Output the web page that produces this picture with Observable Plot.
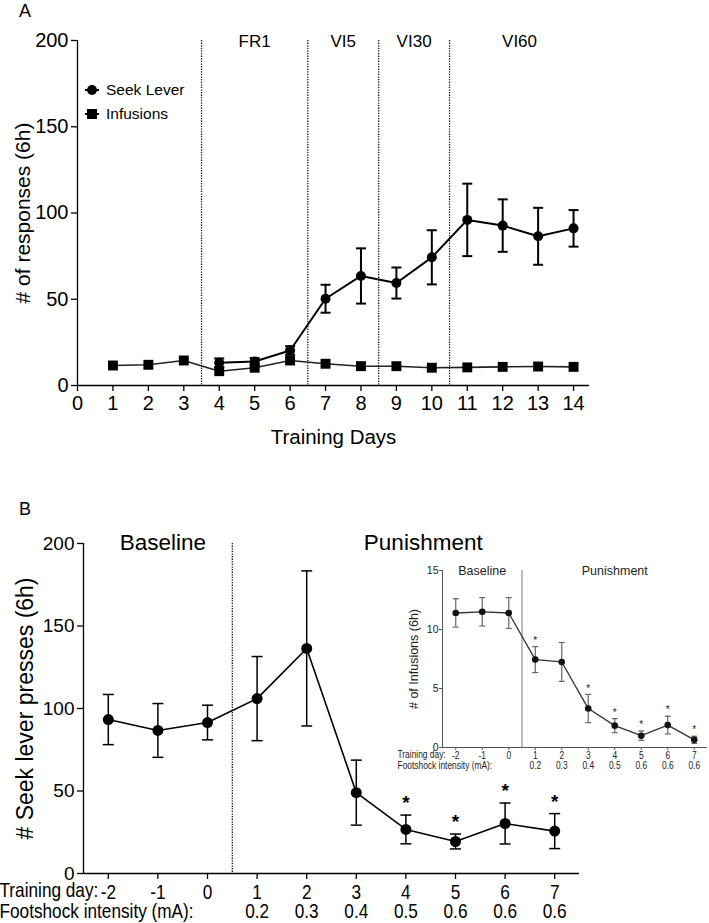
<!DOCTYPE html>
<html>
<head>
<meta charset="utf-8">
<script src="https://cdn.jsdelivr.net/npm/d3@7"></script>
<script src="https://cdn.jsdelivr.net/npm/@observablehq/plot@0.6"></script>
<style>
  body { margin: 0; background: #fff; }
  #fig { position: relative; width: 709px; height: 923px; overflow: hidden;
         font-family: "Liberation Sans", Arial, Helvetica, sans-serif; color: #000; }
  .panel { position: absolute; }
  .tag { position: absolute; font-size: 18px; line-height: 1; z-index: 2; }
</style>
</head>
<body>
<div id="fig">
  <div id="panelA" class="panel" style="left:0;top:0"></div>
  <div id="panelB" class="panel" style="left:0;top:480px"></div>
  <div id="inset" class="panel" style="left:390px;top:555px"></div>
  <div class="tag" style="left:19px;top:2px">A</div>
  <div class="tag" style="left:19px;top:500px">B</div>
</div>
<script>
// ---------- Panel A: acquisition of seeking / taking ----------
const daysA = [1, 2, 3, 4, 5, 6, 7, 8, 9, 10, 11, 12, 13, 14];
const infusionMean = [11.6, 12.0, 14.5, 8.3, 10.3, 14.5, 12.6, 11.2, 11.2, 10.3, 10.5, 10.8, 11.0, 10.8];
const infusionSem  = [1.0, 1.0, 1.2, 1.5, 1.2, 1.2, 1.0, 1.0, 1.0, 1.0, 1.0, 1.0, 1.0, 1.0];
const seekDays = [4, 5, 6, 7, 8, 9, 10, 11, 12, 13, 14];
const seekMean = [13.2, 13.9, 20.3, 50.3, 63.5, 59.4, 74.3, 96.0, 92.7, 86.5, 91.1];
const seekSem  = [2.5, 2.0, 2.5, 8.1, 16.0, 9.0, 15.7, 21.0, 15.2, 16.5, 10.6];
const xTicksA = [0, 1, 2, 3, 4, 5, 6, 7, 8, 9, 10, 11, 12, 13, 14];
const yTicksA = [0, 50, 100, 150, 200];
const phaseBoundsA = [3.5, 6.5, 8.5, 10.5];
const phaseNamesA = ["FR1", "VI5", "VI30", "VI60"];
const legendA = ["Seek Lever", "Infusions"];

// ---------- Panel B: punished seeking ----------
const daysB = [-2, -1, 0, 1, 2, 3, 4, 5, 6, 7];
const footshock = ["", "", "", "0.2", "0.3", "0.4", "0.5", "0.6", "0.6", "0.6"];
const seekMeanB = [93.3, 86.7, 91.5, 106.0, 136.4, 49.0, 26.7, 19.4, 30.3, 25.7];
const seekSemB  = [15.2, 16.3, 10.5, 25.5, 47.0, 19.7, 8.7, 4.5, 12.4, 10.6];
const sigB      = [false, false, false, false, false, false, true, true, true, true];
const yTicksB = [0, 50, 100, 150, 200];
const phaseNamesB = ["Baseline", "Punishment"];
const phaseLabelXB = [-0.9, 4.35];
const phaseBoundB = [0.5];

// ---------- Inset: infusions during punishment ----------
const infMeanB = [11.4, 11.5, 11.4, 7.45, 7.25, 3.3, 1.85, 1.0, 1.9, 0.65];
const infSemB  = [1.2, 1.2, 1.3, 1.1, 1.65, 1.2, 0.6, 0.4, 0.75, 0.3];
const sigInf   = [false, false, false, true, false, true, true, true, true, true];
const yTicksInset = [0, 5, 10, 15];
const phaseLabelXInset = [-1, 4];

const FONT = '"Liberation Sans", Arial, Helvetica, sans-serif';
// the condensed rows are tagged through this family name and squeezed after rendering
const NARROW = '"Liberation Sans Narrow", "Liberation Sans", Arial, sans-serif';
const dayLabel = d => String(d);

// horizontal error-bar cap drawn as a symbol so it keeps a constant pixel width
const cap = {
  draw(context, size) {
    const w = Math.sqrt(size / Math.PI);
    context.moveTo(-w, 0);
    context.lineTo(w, 0);
  }
};

function errorBars(xs, mean, sem, {capR, stroke, strokeWidth}) {
  const rows = xs.map((x, i) => ({x, lo: mean[i] - sem[i], hi: mean[i] + sem[i]}));
  return [
    Plot.ruleX(rows, {x: "x", y1: "lo", y2: "hi", stroke, strokeWidth}),
    Plot.dot(rows, {x: "x", y: "hi", symbol: cap, r: capR, stroke, strokeWidth, fill: "none"}),
    Plot.dot(rows, {x: "x", y: "lo", symbol: cap, r: capR, stroke, strokeWidth, fill: "none"})
  ];
}

// legend: symbol with a short line through it, plus label
function legendMark(items) {
  return (index, scales, values, dims) => {
    const g = d3.create("svg:g");
    items.forEach((it, i) => {
      const y = dims.marginTop + 50 + i * 24;
      const x = dims.marginLeft + 15;
      g.append("line").attr("x1", x - 7).attr("x2", x + 7).attr("y1", y).attr("y2", y)
        .attr("stroke", "#000").attr("stroke-width", 2);
      if (it.symbol === "circle") {
        g.append("circle").attr("cx", x).attr("cy", y).attr("r", 5);
      } else {
        g.append("rect").attr("x", x - 5).attr("y", y - 5).attr("width", 10).attr("height", 10);
      }
      g.append("text").attr("x", x + 14).attr("y", y).attr("dy", "0.35em")
        .attr("text-anchor", "start")
        .attr("font-size", 15.5).attr("font-family", FONT).text(it.label);
    });
    return g.node();
  };
}

// squeeze glyphs horizontally for the condensed label rows
function condense(svg, s) {
  svg.querySelectorAll('g[font-family*="Narrow"] text').forEach(t => {
    const tr = t.getAttribute("transform") || "";
    t.setAttribute("transform", `${tr} scale(${s},1)`);
  });
  return svg;
}

// ---------- draw panel A ----------
const xMaxA = 14.45;
const infRows = daysA.map((d, i) => ({day: d, v: infusionMean[i]}));
const seekRows = seekDays.map((d, i) => ({day: d, v: seekMean[i]}));
const phaseRowsA = phaseNamesA.map((name, i) => ({
  name, x: (phaseBoundsA[i] + (i + 1 < phaseBoundsA.length ? phaseBoundsA[i + 1] : xMaxA)) / 2
}));

const plotA = Plot.plot({
  width: 709, height: 480,
  marginLeft: 77, marginRight: 120, marginTop: 40, marginBottom: 95,
  style: {fontFamily: FONT, background: "transparent", color: "#000"},
  x: {domain: [0, xMaxA], axis: null},
  y: {domain: [0, 200], axis: null},
  marks: [
    Plot.ruleX([0], {stroke: "#000", strokeWidth: 1.3}),
    Plot.ruleY([0], {stroke: "#000", strokeWidth: 1.3}),
    Plot.axisY({ticks: yTicksA, tickSize: 6, tickPadding: 3, fontSize: 20, label: null, strokeWidth: 1.3}),
    Plot.axisX({ticks: xTicksA, tickSize: 6, tickPadding: 4, fontSize: 20, label: null, strokeWidth: 1.3}),
    Plot.text(["# of responses (6h)"], {frameAnchor: "left", textAnchor: "middle", rotate: -90, dx: -54, fontSize: 21}),
    Plot.text(["Training Days"], {frameAnchor: "bottom", dy: 58, fontSize: 20.5}),
    Plot.ruleX(phaseBoundsA, {stroke: "#000", strokeWidth: 1.2, strokeDasharray: "1.3,1.3"}),
    Plot.text(phaseRowsA, {x: "x", y: 200, text: "name", fontSize: 17, dy: 1}),
    Plot.line(infRows, {x: "day", y: "v", stroke: "#222", strokeWidth: 1.6}),
    ...errorBars(daysA, infusionMean, infusionSem, {capR: 4, stroke: "#222", strokeWidth: 1.5}),
    Plot.dot(infRows, {x: "day", y: "v", symbol: "square", r: 5.6, fill: "#000"}),
    Plot.line(seekRows, {x: "day", y: "v", stroke: "#000", strokeWidth: 2}),
    ...errorBars(seekDays, seekMean, seekSem, {capR: 5, stroke: "#000", strokeWidth: 2}),
    Plot.dot(seekRows, {x: "day", y: "v", symbol: "circle", r: 5, fill: "#000"}),
    legendMark([{symbol: "circle", label: legendA[0]}, {symbol: "square", label: legendA[1]}])
  ]
});
document.getElementById("panelA").append(plotA);

// ---------- draw panel B ----------
const rowsB = daysB.map((d, i) => ({day: d, v: seekMeanB[i], hi: seekMeanB[i] + seekSemB[i], sig: sigB[i], fs: footshock[i]}));
const plotB = Plot.plot({
  width: 709, height: 443,
  marginLeft: 83, marginRight: 130, marginTop: 63, marginBottom: 50,
  style: {fontFamily: FONT, background: "transparent", color: "#000", overflow: "visible"},
  x: {domain: [-2.5, 7.5], axis: null},
  y: {domain: [0, 200], axis: null},
  marks: [
    Plot.ruleX([-2.5], {stroke: "#000", strokeWidth: 1.3}),
    Plot.ruleY([0], {stroke: "#000", strokeWidth: 1.3}),
    Plot.axisY({ticks: yTicksB, tickSize: 6, tickPadding: 3, fontSize: 19, label: null, strokeWidth: 1.3}),
    Plot.axisX({ticks: daysB, tickFormat: dayLabel, tickSize: 6, tickPadding: 5, fontSize: 21, fontFamily: NARROW, label: null, strokeWidth: 1.3}),
    Plot.text(["Training day:"], {frameAnchor: "bottom-left", textAnchor: "start", dx: -84, dy: 23, fontSize: 21, fontFamily: NARROW}),
    Plot.text(["Footshock intensity (mA):"], {frameAnchor: "bottom-left", textAnchor: "start", dx: -84, dy: 44, fontSize: 21, fontFamily: NARROW}),
    Plot.text(rowsB, {x: "day", text: "fs", frameAnchor: "bottom", dy: 44, fontSize: 21, fontFamily: NARROW}),
    Plot.text(["# Seek lever presses (6h)"], {frameAnchor: "left", textAnchor: "middle", rotate: -90, dx: -58, fontSize: 23}),
    Plot.ruleX(phaseBoundB, {stroke: "#000", strokeWidth: 1.2, strokeDasharray: "1.3,1.3"}),
    Plot.text(phaseNamesB, {x: (d, i) => phaseLabelXB[i], y: 200, fontSize: 22.5, dy: -1}),
    Plot.line(rowsB, {x: "day", y: "v", stroke: "#000", strokeWidth: 1.6}),
    ...errorBars(daysB, seekMeanB, seekSemB, {capR: 5.5, stroke: "#000", strokeWidth: 1.5}),
    Plot.dot(rowsB, {x: "day", y: "v", r: 5.5, fill: "#000"}),
    Plot.text(rowsB.filter(d => d.sig), {x: "day", y: "hi", text: () => "*", fontSize: 19, fontWeight: "bold", dy: -12})
  ]
});
document.getElementById("panelB").append(condense(plotB, 0.82));

// ---------- draw inset ----------
const rowsI = daysB.map((d, i) => ({day: d, v: infMeanB[i], hi: infMeanB[i] + infSemB[i], sig: sigInf[i], fs: footshock[i]}));
const plotI = Plot.plot({
  width: 319, height: 222,
  marginLeft: 52, marginRight: 2, marginTop: 15, marginBottom: 30,
  style: {fontFamily: FONT, background: "transparent", color: "#222", overflow: "visible"},
  x: {domain: [-2.5, 7.5], axis: null},
  y: {domain: [0, 15], axis: null},
  marks: [
    Plot.ruleX([-2.5], {stroke: "#555", strokeWidth: 1}),
    Plot.ruleY([0], {stroke: "#555", strokeWidth: 1}),
    Plot.axisY({ticks: yTicksInset, tickSize: 3, tickPadding: 1, fontSize: 10.5, label: null, stroke: "#555"}),
    Plot.axisX({ticks: daysB, tickFormat: dayLabel, tickSize: 3, tickPadding: 1, fontSize: 10.5, fontFamily: NARROW, label: null, stroke: "#555"}),
    Plot.text(["Training day:"], {frameAnchor: "bottom-left", textAnchor: "start", dx: -45, dy: 10, fontSize: 10.5, fontFamily: NARROW}),
    Plot.text(["Footshock intensity (mA):"], {frameAnchor: "bottom-left", textAnchor: "start", dx: -45, dy: 21, fontSize: 10.5, fontFamily: NARROW}),
    Plot.text(rowsI, {x: "day", text: "fs", frameAnchor: "bottom", dy: 21, fontSize: 10.5, fontFamily: NARROW}),
    Plot.text(["# of Infusions (6h)"], {frameAnchor: "left", textAnchor: "middle", rotate: -90, dx: -29, fontSize: 12.5}),
    Plot.ruleX(phaseBoundB, {stroke: "#555", strokeWidth: 0.8}),
    Plot.text(phaseNamesB, {x: (d, i) => phaseLabelXInset[i], y: 15, fontSize: 12.5}),
    Plot.line(rowsI, {x: "day", y: "v", stroke: "#333", strokeWidth: 1.3}),
    ...errorBars(daysB, infMeanB, infSemB, {capR: 3, stroke: "#666", strokeWidth: 1.2}),
    Plot.dot(rowsI, {x: "day", y: "v", r: 3.3, fill: "#111"}),
    Plot.text(rowsI.filter(d => d.sig), {x: "day", y: "hi", text: () => "*", fontSize: 10, dy: -6})
  ]
});
document.getElementById("inset").append(condense(plotI, 0.8));
</script>
</body>
</html>
